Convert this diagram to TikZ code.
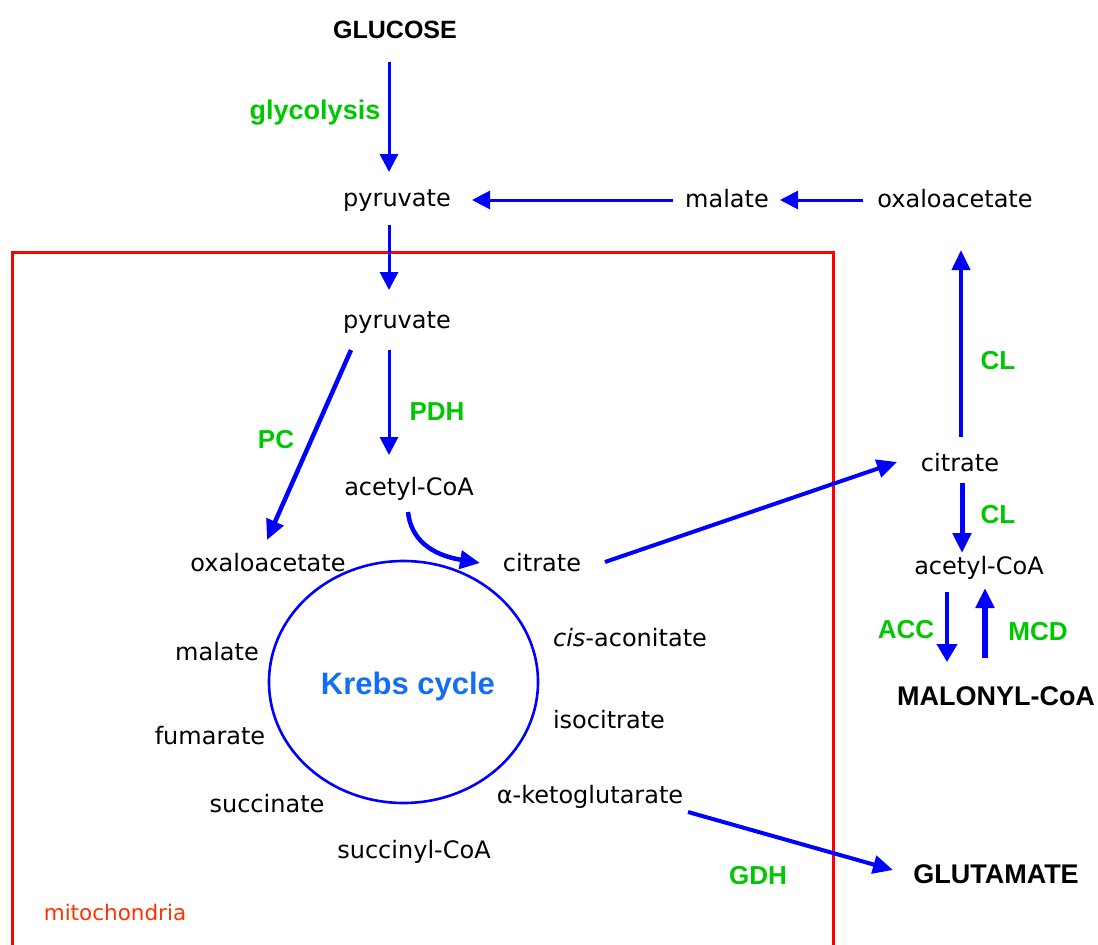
\documentclass[tikz,border=0pt]{standalone}
\usepackage{fontspec}
\setmainfont{DejaVu Sans}
\newfontfamily\boldsans{Liberation Sans}[BoldFont={Liberation Sans Bold}]
\usetikzlibrary{arrows.meta,calc}
\definecolor{arrowblue}{RGB}{0,0,255}
\definecolor{enzgreen}{RGB}{0,200,0}
\definecolor{krebsblue}{RGB}{20,110,245}
\definecolor{boxred}{RGB}{255,0,0}
\definecolor{mitored}{RGB}{255,51,0}
\tikzset{
  met/.style={inner sep=0pt, font=\fontsize{24}{28}\selectfont},
  bigmet/.style={inner sep=0pt, font=\boldsans\bfseries\fontsize{27}{31}\selectfont},
  enz/.style={inner sep=0pt, text=enzgreen, font=\boldsans\bfseries\fontsize{26}{30}\selectfont},
  thinarr/.style={draw=arrowblue, line width=3pt, -{Triangle[length=18pt,width=18pt]}},
  thickarr/.style={draw=arrowblue, line width=4.5pt, -{Triangle[length=20pt,width=18pt]}},
}
\begin{document}
\begin{tikzpicture}[x=1pt,y=-1pt]
\useasboundingbox (0,0) rectangle (1098,945);
% mitochondria box
\draw[boxred, line width=3pt] (12,960) -- (12,252) -- (833,252) -- (833,960);
\node[inner sep=0pt, text=mitored, font=\fontsize{21.5}{25}\selectfont] (mito) at (115,912) {mitochondria};

% nodes
\node[bigmet, font=\boldsans\bfseries\fontsize{25}{29}\selectfont] (glucose) at (395,30) {GLUCOSE};
\node[enz, font=\boldsans\bfseries\fontsize{27}{31}\selectfont] (glyc) at (315,113) {glycolysis};
\node[met] (pyr1) at (397,201) {pyruvate};
\node[met] (mal1) at (727,199) {malate};
\node[met] (oxa1) at (955,199) {oxaloacetate};
\node[met] (pyr2) at (397,323) {pyruvate};
\node[enz] (pdh) at (437,412) {PDH};
\node[enz] (pc) at (276,440) {PC};
\node[met] (acoA) at (409,489) {acetyl-CoA};
\node[met] (oxa2) at (268,563) {oxaloacetate};
\node[met] (cit2) at (542,563) {citrate};
\node[met] (mal2) at (217,652) {malate};
\node[met] (cis) at (630,638) {\textit{cis}-aconitate};
\node[met] (fum) at (210,736) {fumarate};
\node[met] (iso) at (609,720) {isocitrate};
\node[met] (suc) at (267,804) {succinate};
\node[met] (akg) at (590,797) {α-ketoglutarate};
\node[met] (sucoa) at (414,852) {succinyl-CoA};
\node[inner sep=0pt, text=krebsblue, font=\boldsans\bfseries\fontsize{31}{35}\selectfont] (krebs) at (408,686) {Krebs cycle};
\draw[arrowblue, line width=2.6pt] (403.5,682) ellipse [x radius=134.5, y radius=121];

\node[met] (cit3) at (960,463) {citrate};
\node[enz] (cl1) at (998,361) {CL};
\node[enz] (cl2) at (998,515) {CL};
\node[met] (acoB) at (979,568) {acetyl-CoA};
\node[enz] (acc) at (906,630) {ACC};
\node[enz] (mcd) at (1038,632) {MCD};
\node[bigmet] (malo) at (996,696) {MALONYL-CoA};
\node[enz] (gdh) at (758,876) {GDH};
\node[bigmet] (glut) at (996,874) {GLUTAMATE};

% arrows
\draw[thinarr] ($(glucose)+(-6,32)$) -- ($(pyr1)+(-8,-29)$);
\draw[thinarr] ($(mal1)+(-54,1)$) -- ($(pyr1)+(75,-1)$);
\draw[thinarr] ($(oxa1)+(-92,1)$) -- ($(mal1)+(53,1)$);
\draw[thinarr] ($(pyr1)+(-8,24)$) -- ($(pyr2)+(-8,-33)$);
\draw[thinarr] ($(pyr2)+(-8,27)$) -- ($(acoA)+(-20,-34)$);
\draw[thickarr] ($(pyr2)+(-46,27)$) -- ($(oxa2)+(-1,-23)$);
\draw[thickarr] ($(acoA)+(-1,23)$) .. controls ($(acoA)+(2,51)$) and ($(cit2)+(-110,-8)$) .. ($(cit2)+(-62,0)$);
\draw[thickarr, line width=4pt] ($(cit2)+(63,-1)$) -- ($(cit3)+(-63,-1)$);
\draw[thickarr, line width=4pt] ($(cit3)+(1,-26)$) -- ($(oxa1)+(6,51)$);
\draw[thickarr, line width=5pt] ($(cit3)+(2,20)$) -- ($(acoB)+(-17,-15)$);
\draw[thickarr, line width=4pt, -{Triangle[length=18pt,width=20pt]}] ($(acoB)+(-32,24)$) -- ($(malo)+(-49,-34)$);
\draw[thickarr, line width=6pt] ($(malo)+(-11,-38)$) -- ($(acoB)+(6,20)$);
\draw[thickarr, line width=4pt] ($(akg)+(98,15)$) -- ($(glut)+(-103,-4)$);
\end{tikzpicture}
\end{document}
